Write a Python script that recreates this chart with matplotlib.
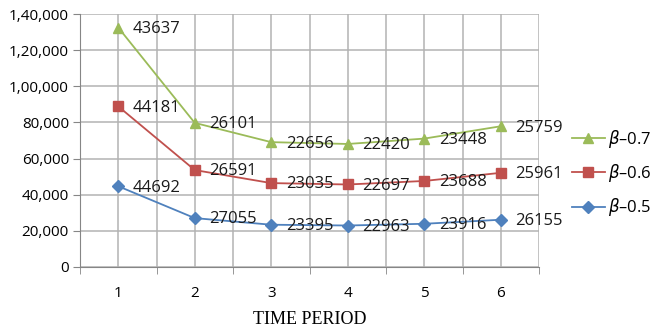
import matplotlib.pyplot as plt
import numpy as np
from matplotlib.ticker import FuncFormatter, MultipleLocator

plt.rcParams['font.family'] = ['Open Sans', 'DejaVu Sans']

# data: individual values per time period (the chart stacks them)
periods = [1, 2, 3, 4, 5, 6]
beta_05 = [44692, 27055, 23395, 22963, 23916, 26155]
beta_06 = [44181, 26591, 23035, 22697, 23688, 25961]
beta_07 = [43637, 26101, 22656, 22420, 23448, 25759]

series_names = [r'$\beta$' + '\u20130.5', r'$\beta$' + '\u20130.6', r'$\beta$' + '\u20130.7']
colors = ['#4F81BD', '#C0504D', '#9BBB59']
markers = ['D', 's', '^']
msizes = [6, 7.5, 7.5]


def indian_format(v, pos=None):
    s = str(int(round(v)))
    if len(s) <= 3:
        return s
    head, tail = s[:-3], s[-3:]
    groups = []
    while len(head) > 2:
        groups.insert(0, head[-2:])
        head = head[:-2]
    if head:
        groups.insert(0, head)
    return ','.join(groups + [tail])


fig = plt.figure(figsize=(6.54, 3.28), dpi=100)
ax = fig.add_axes([80 / 654, 61 / 328, 459 / 654, 253 / 328])

values = [beta_05, beta_06, beta_07]
stacked = np.cumsum(np.array(values), axis=0)

lines = []
for i in range(3):
    ln, = ax.plot(periods, stacked[i], color=colors[i], marker=markers[i],
                  markersize=msizes[i], linewidth=1.3, zorder=3)
    lines.append(ln)
    for x, y, lab in zip(periods, stacked[i], values[i]):
        ax.annotate(str(lab), (x, y), xytext=(10.5, -1), textcoords='offset points',
                    ha='left', va='center', fontsize=12, color='#1a1a1a')

ax.set_xlim(0.5, 6.5)
ax.set_ylim(0, 140000)
ax.yaxis.set_major_locator(MultipleLocator(20000))
ax.yaxis.set_major_formatter(FuncFormatter(indian_format))

ax.set_xticks(periods)
ax.set_xticks(np.arange(0.5, 7.0, 1.0), minor=True)
ax.tick_params(axis='x', which='major', length=0, pad=14, labelsize=11)
ax.tick_params(axis='x', which='minor', length=5, color='#868686')
ax.tick_params(axis='y', length=5, color='#868686', labelsize=11, pad=3)

ax.grid(True, which='both', axis='x', color='#B3B3B3', linewidth=1.1)
ax.grid(True, which='major', axis='y', color='#B3B3B3', linewidth=1.1)
ax.set_axisbelow(True)

for side in ['top', 'right']:
    ax.spines[side].set_visible(False)
ax.spines['left'].set_color('#868686')
ax.spines['bottom'].set_color('#868686')

ax.set_xlabel('TIME PERIOD', family=['Liberation Serif', 'DejaVu Serif'],
              fontsize=13, labelpad=7)

leg = fig.legend(lines[::-1], series_names[::-1], loc='center left',
                 bbox_to_anchor=(565 / 654, 1 - 173 / 328), frameon=False,
                 fontsize=12, labelspacing=0.75, handlelength=2.0,
                 handletextpad=0.2, borderaxespad=0)

fig.savefig('out.png', dpi=100)
